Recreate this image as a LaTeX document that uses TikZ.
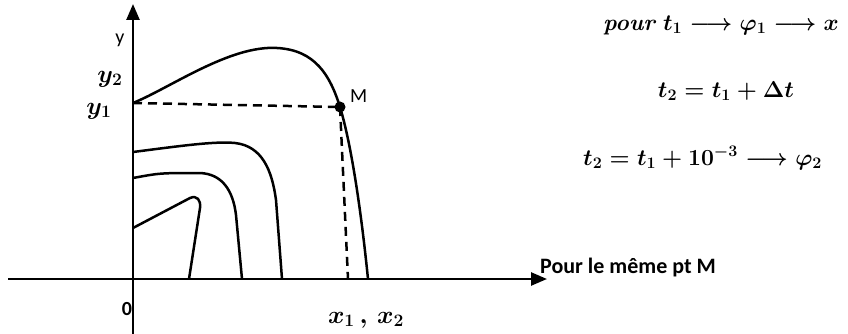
\RequirePackage{fix-cm}
\documentclass[tikz,border=0pt]{standalone}
\usepackage{amsmath}
\usepackage{fontspec}
\newfontfamily\calib{Carlito}
\usetikzlibrary{arrows.meta}
\tikzset{
  axis/.style={line width=2.5pt,-{Triangle[length=16pt,width=13pt]}},
  curve/.style={line width=2.5pt,line join=round},
  guide/.style={line width=2.5pt,dash pattern=on 9pt off 6pt},
  lbl/.style={inner sep=0pt,font=\calib\fontsize{20}{24}\selectfont},
  hand/.style={inner sep=0pt,font=\fontsize{25}{30}\selectfont\boldmath},
  eq/.style={inner sep=0pt,font=\fontsize{23}{28}\selectfont\boldmath}
}
\begin{document}
\begin{tikzpicture}[x=1pt,y=-1pt]
\useasboundingbox (0,0) rectangle (848,334);
% axes
\coordinate (O) at (133,279);
\coordinate (yb) at (133,334);
\coordinate (yt) at (133,4);
\coordinate (xl) at (8,279);
\coordinate (xr) at (547,279);
\draw[axis] (yb) -- (yt);
\draw[axis] (xl) -- (xr);
% points
\coordinate (Y1) at (133,103);
\coordinate (M) at (340,107);
\coordinate (X1) at (348,279);
% outer curve
\draw[curve] (Y1) .. controls (170,88) and (230,45) .. (277,48)
  .. controls (315,50) and (330,75) .. (M)
  .. controls (350,140) and (360,200) .. (368,279);
% curve 2
\draw[curve] (133,152) .. controls (180,146) and (215,141) .. (235,143)
  .. controls (262,146) and (272,170) .. (276,200) -- (282,279);
% curve 3
\draw[curve] (133,178) .. controls (160,173) .. (200,173)
  .. controls (222,174) and (233,190) .. (236,215) -- (242,279);
% curve 4
\draw[curve] (133,228) -- (190,198) .. controls (197,195) and (201,200) .. (200,208) -- (189,279);
% dashed guides
\draw[guide] (Y1) -- (M);
\draw[guide] (M) -- (X1);
\fill (M) circle (5.5pt);
% labels
\node[lbl] (ylab) at (120,40) {y};
\node[lbl,font=\calib\bfseries\fontsize{20}{24}\selectfont] (zero) at (127,309) {0};
\node[lbl,anchor=west] (Mlab) at (350,96) {M};
\node[hand] (y2) at (110,79) {$y_2$};
\node[hand] (y1) at (99,111) {$y_1$};
\node[hand] (xs) at (366,320) {$x_1\,,\,x_2$};
\node[lbl,anchor=west,font=\calib\bfseries\fontsize{22}{26}\selectfont] (pour) at (540,268) {Pour le même pt M};
\node[eq,anchor=west] (e1) at (603,25) {$\textbf{\textit{pour}}\ t_1 \longrightarrow \varphi_1 \longrightarrow x$};
\node[eq] (e2) at (726,91) {$t_2 = t_1 + \Delta t$};
\node[eq,anchor=west] (e3) at (583,158) {$t_2 = t_1 + 10^{-3} \longrightarrow \varphi_2$};
\end{tikzpicture}
\end{document}
